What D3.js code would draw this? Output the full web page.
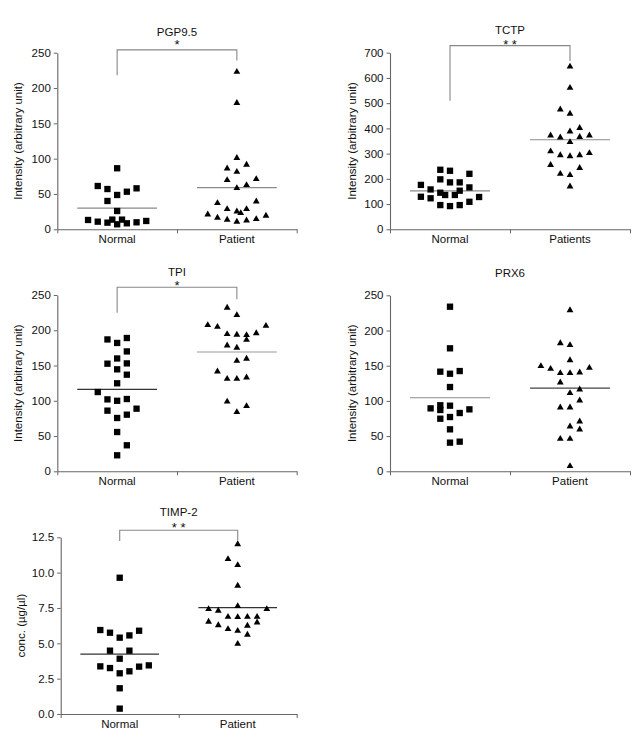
<!DOCTYPE html>
<html>
<head>
<meta charset="utf-8">
<script src="https://cdn.jsdelivr.net/npm/d3@7/dist/d3.min.js"></script>
<style>
  html, body { margin: 0; padding: 0; background: #fff; }
  svg { display: block; }
  text { font-family: Arial, "Liberation Sans", Helvetica, sans-serif; fill: #111; }
</style>
</head>
<body>
<svg id="chart" width="643" height="748"></svg>
<script>
// ---------------- DATA ----------------
const titles = ["PGP9.5", "TCTP", "TPI", "PRX6", "TIMP-2"];
const groupLabels = [
  ["Normal", "Patient"],
  ["Normal", "Patients"],
  ["Normal", "Patient"],
  ["Normal", "Patient"],
  ["Normal", "Patient"]
];
const yLabels = [
  "Intensity (arbitrary unit)",
  "Intensity (arbitrary unit)",
  "Intensity (arbitrary unit)",
  "Intensity (arbitrary unit)",
  "conc. (\u00b5g/\u00b5l)"
];
const yTicks = [
  [0, 50, 100, 150, 200, 250],
  [0, 100, 200, 300, 400, 500, 600, 700],
  [0, 50, 100, 150, 200, 250],
  [0, 50, 100, 150, 200, 250],
  [0, 2.5, 5.0, 7.5, 10.0, 12.5]
];
const significance = ["*", "* *", "*", "", "* *"];
// bracket: [top value, left foot value, right foot value]
const brackets = [[254, 218, 239], [728, 510, 667], [261, 225, 244], null, [13.0, 12.24, 12.3]];
// group means (horizontal lines)
const means = [[30, 59], [152, 355], [116.3, 169.2], [104.5, 118.2], [4.24, 7.52]];

// points: [value, swarm slot]
const pgpNormal = [[86.4,0],[61.3,-2],[57.0,-1],[48.6,0],[53.2,1],[58.0,2],[40.1,-1],[25.9,0],
  [13.2,-3],[10.8,-2],[9.4,-1],[13.7,-0.5],[7.1,0],[13.7,0.5],[8.5,1],[9.9,2],[11.8,3]];
const pgpPatient = [[224,0],[180,0],[102,0],[87.3,-1],[82.5,0],[92.5,1],[70.8,-1],[72.2,2],[59.4,0],[63.7,1],
  [38.2,-2],[40.6,2],[29.7,-1],[26.4,0],[29.7,1],[24.1,0.4],[22.2,-3],[17.5,-2],[14.6,-1],[11.8,0],[13.7,1],[15.6,2],[20.3,3]];

const tctpNormal = [[236,-1],[232,0],[220,2],[198,-1],[186,0],[186,1],[176,-3],[158,-2],[166,2],[145,-1],
  [153,1],[136,-0.5],[136,0.5],[129,-3],[123,-2],[128,3],[109,2],[96,-1],[92,0],[96,1]];
const tctpPatient = [[648,0],[564,0],[478,-1],[461,0],[391,0],[405,1],[375,-2],[367,-1],[369,1],[375,2],[349,0],
  [312,-2],[297,-1],[293,0],[297,1],[305,2],[258,-2],[246,1],[223,-1],[218,0],[173,0]];

const tpiNormal = [[187,-1],[182,0],[189,1],[170,1],[160,0],[152.6,-1],[153,1],[144.6,0],[137,1],[124.8,0],
  [112.4,-2],[102,-1],[100,0],[102.5,1],[86,-1],[88.8,2],[80.3,1],[75.6,0],[55.7,0],[36.9,1],[22.7,0]];
const tpiPatient = [[233,-1],[222.6,0],[208.4,-3],[206,-2],[207.4,3],[195.7,-1],[194.7,0],[194.3,1],[197,2],
  [187.6,1],[179.5,-1],[176.3,0],[157.8,0],[160.7,1],[142.7,-2],[132.3,-1],[132.3,0],[134.2,1],[100,-1],[93.6,1],[85,0]];

const prxNormal = [[233.8,0],[174.7,0],[141.5,-1],[138.6,0],[142.4,1],[119.7,0],[89.4,-2],[93.8,-1],[87.1,-1],
  [93.2,0],[88,2],[82.8,1],[74.7,-1],[77.1,0],[59.6,0],[40.7,0],[42.1,1]];
const prxPatient = [[230,0],[183,-1],[180.4,0],[159,0],[150.6,-3],[146.7,-2],[140.6,-1],[140.6,0],[141.5,1],[148,2],
  [127.3,-1],[112.2,0],[117.3,1],[101.7,1],[91.8,-1],[91.8,0],[71.9,1],[64.8,0],[60.5,1],[47.3,-1],[47.3,0],[8.5,0]];

const timpNormal = [[9.64,0],[5.94,-2],[5.75,-1],[5.40,0],[5.56,1],[5.89,2],[4.48,-1],[4.48,1],[3.91,0],
  [3.37,-2],[3.25,-1],[2.88,0],[3.02,1],[3.35,2],[3.44,3],[1.82,0],[0.38,0]];
const timpPatient = [[12.07,0],[11.01,-1],[10.59,0],[9.13,0],[7.69,0],[7.48,-3],[7.36,-2],[7.48,3],[6.93,-1],
  [6.91,0],[6.93,1],[6.93,2],[6.58,-3],[6.34,-2],[6.53,2],[6.30,1],[6.06,-1],[5.94,0],[5.66,1],[5.02,0]];

const normalSeries = [pgpNormal, tctpNormal, tpiNormal, prxNormal, timpNormal];
const patientSeries = [pgpPatient, tctpPatient, tpiPatient, prxPatient, timpPatient];

// ---------------- LAYOUT / STYLE ----------------
const layout = [
  { l: 57.3, r: 296.7, t: 52.7, b: 229.3, title: -21.0, star: -10.7, lab: 39 },
  { l: 390.0, r: 630.0, t: 52.7, b: 229.3, title: -22.7, star: -11.0, lab: 38 },
  { l: 57.3, r: 296.7, t: 295.0, b: 471.3, title: -22.7, star: -12.7, lab: 39 },
  { l: 390.0, r: 630.0, t: 295.3, b: 471.3, title: -22.0, star: 0, lab: 38 },
  { l: 60.7, r: 296.7, t: 537.3, b: 714.0, title: -25.3, star: -13.0, lab: 40 }
];
const meanColors = [["#8a8a8a", "#8a8a8a"], ["#8a8a8a", "#8a8a8a"], ["#333", "#999"], ["#8a8a8a", "#444"], ["#333", "#333"]];
const fontSize = 11.5;
const starSize = 13;

const svg = d3.select("#chart");

titles.forEach((title, i) => {
  const L = layout[i];
  const g = svg.append("g");
  const groups = groupLabels[i];
  const ticks = yTicks[i];

  const x = d3.scaleBand().domain(groups).range([L.l, L.r]).paddingInner(0).paddingOuter(0);
  const xEdges = d3.scaleLinear().domain([0, groups.length]).range([L.l, L.r]);
  const y = d3.scaleLinear().domain([0, d3.max(ticks)]).range([L.b, L.t]);
  const slot = d3.scaleLinear().domain([0, 1]).range([0, 9.7]);

  // y axis
  const yAxis = d3.axisLeft(y).tickValues(ticks).tickSize(3.5).tickSizeOuter(0).tickPadding(3)
    .tickFormat(i === 4 ? d3.format(".1f") : d3.format("d"));
  const ya = g.append("g").attr("transform", `translate(${L.l},0)`).call(yAxis);
  ya.select(".domain").attr("stroke", "#666").attr("stroke-width", 1.1);
  ya.selectAll(".tick line").attr("stroke", "#666");
  ya.selectAll(".tick text").attr("font-size", fontSize).attr("fill", "#111")
    .attr("font-family", "Arial, 'Liberation Sans', sans-serif");

  // x axis boundary ticks
  const xAxisEdges = d3.axisBottom(xEdges).tickValues([0, 1, 2]).tickSize(4).tickSizeOuter(0).tickFormat("");
  const xe = g.append("g").attr("transform", `translate(0,${L.b})`).call(xAxisEdges);
  xe.select(".domain").attr("stroke", "#666").attr("stroke-width", 1.1);
  xe.selectAll(".tick line").attr("stroke", "#666");

  // x category labels
  const xAxisLabels = d3.axisBottom(x).tickSize(0).tickPadding(6);
  const xl = g.append("g").attr("transform", `translate(0,${L.b})`).call(xAxisLabels);
  xl.select(".domain").remove();
  xl.selectAll(".tick text").attr("font-size", fontSize).attr("fill", "#111")
    .attr("font-family", "Arial, 'Liberation Sans', sans-serif");

  // y label
  g.append("text")
    .attr("transform", `translate(${L.l - L.lab},${(L.t + L.b) / 2}) rotate(-90)`)
    .attr("text-anchor", "middle")
    .attr("dominant-baseline", "central")
    .attr("font-size", fontSize)
    .text(yLabels[i]);

  const cx0 = x(groups[0]) + x.bandwidth() / 2;
  const cx1 = x(groups[1]) + x.bandwidth() / 2;
  const mid = (cx0 + cx1) / 2;

  // title
  g.append("text")
    .attr("x", mid).attr("y", L.t + L.title)
    .attr("text-anchor", "middle").attr("dominant-baseline", "central")
    .attr("font-size", fontSize)
    .text(title);

  // bracket + significance
  const br = brackets[i];
  if (br) {
    const path = d3.path();
    path.moveTo(cx0, y(br[1]));
    path.lineTo(cx0, y(br[0]));
    path.lineTo(cx1, y(br[0]));
    path.lineTo(cx1, y(br[2]));
    g.append("path").attr("d", path.toString())
      .attr("fill", "none").attr("stroke", "#888").attr("stroke-width", 1.1);
    g.append("text")
      .attr("x", mid).attr("y", L.t + L.star + 7.3)
      .attr("text-anchor", "middle")
      .attr("font-size", starSize)
      .text(significance[i]);
  }

  // mean lines
  const halfLen = x.bandwidth() / 3;
  [cx0, cx1].forEach((cx, k) => {
    g.append("line")
      .attr("x1", cx - halfLen).attr("x2", cx + halfLen)
      .attr("y1", y(means[i][k])).attr("y2", y(means[i][k]))
      .attr("stroke", meanColors[i][k]).attr("stroke-width", 1.2);
  });

  // points
  const sq = d3.symbol().type(d3.symbolSquare).size(40);
  const tri = d3.symbol().type(d3.symbolTriangle).size(20);
  g.append("g").selectAll("path").data(normalSeries[i]).join("path")
    .attr("d", sq)
    .attr("transform", d => `translate(${cx0 + slot(d[1])},${y(d[0])})`)
    .attr("fill", "#000");
  g.append("g").selectAll("path").data(patientSeries[i]).join("path")
    .attr("d", tri)
    .attr("transform", d => `translate(${cx1 + slot(d[1])},${y(d[0]) + 0.8})`)
    .attr("fill", "#000");
});
</script>
</body>
</html>
